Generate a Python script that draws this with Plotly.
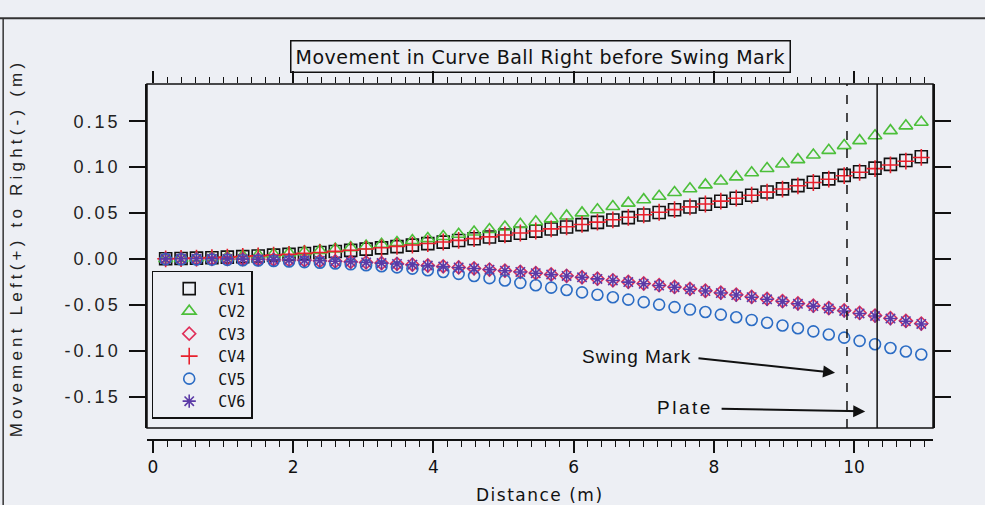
import plotly.graph_objects as go

# Distance along the pitch path (m)
distance = [0.18, 0.40, 0.62, 0.84, 1.06, 1.28, 1.50, 1.72, 1.94, 2.16,
            2.38, 2.60, 2.82, 3.04, 3.26, 3.48, 3.70, 3.92, 4.14, 4.36,
            4.58, 4.80, 5.02, 5.24, 5.46, 5.68, 5.90, 6.12, 6.34, 6.56,
            6.78, 7.00, 7.22, 7.44, 7.66, 7.88, 8.10, 8.32, 8.54, 8.76,
            8.98, 9.20, 9.42, 9.64, 9.86, 10.08, 10.30, 10.52, 10.74, 10.96]

# Lateral movement, left (+) / right (-), in metres
cv1 = [0.0002, 0.0005, 0.0009, 0.0014, 0.0020, 0.0026, 0.0033, 0.0042, 0.0050, 0.0060,
       0.0071, 0.0082, 0.0094, 0.0107, 0.0121, 0.0135, 0.0151, 0.0167, 0.0184, 0.0202,
       0.0220, 0.0240, 0.0260, 0.0281, 0.0303, 0.0326, 0.0349, 0.0374, 0.0399, 0.0425,
       0.0451, 0.0479, 0.0507, 0.0537, 0.0567, 0.0597, 0.0629, 0.0662, 0.0695, 0.0729,
       0.0764, 0.0799, 0.0836, 0.0873, 0.0911, 0.0950, 0.0990, 0.1031, 0.1072, 0.1114]
cv2 = [0.0002, 0.0006, 0.0012, 0.0018, 0.0025, 0.0033, 0.0043, 0.0054, 0.0065, 0.0078,
       0.0092, 0.0108, 0.0124, 0.0141, 0.0160, 0.0179, 0.0200, 0.0222, 0.0245, 0.0269,
       0.0294, 0.0321, 0.0348, 0.0377, 0.0406, 0.0437, 0.0469, 0.0502, 0.0536, 0.0572,
       0.0608, 0.0646, 0.0684, 0.0724, 0.0765, 0.0807, 0.0850, 0.0894, 0.0940, 0.0986,
       0.1034, 0.1082, 0.1132, 0.1183, 0.1235, 0.1289, 0.1343, 0.1398, 0.1450, 0.1490]
cv3 = [0.0001, 0.0002, 0.0002, 0.0001, 0.0000, -0.0002, -0.0004, -0.0007, -0.0011, -0.0015,
       -0.0020, -0.0025, -0.0031, -0.0038, -0.0045, -0.0053, -0.0062, -0.0071, -0.0081, -0.0092,
       -0.0103, -0.0115, -0.0127, -0.0140, -0.0154, -0.0168, -0.0183, -0.0199, -0.0215, -0.0232,
       -0.0249, -0.0267, -0.0286, -0.0305, -0.0325, -0.0346, -0.0367, -0.0389, -0.0412, -0.0435,
       -0.0459, -0.0484, -0.0509, -0.0535, -0.0561, -0.0588, -0.0616, -0.0645, -0.0674, -0.0703]
cv4 = [0.0002, 0.0005, 0.0010, 0.0015, 0.0020, 0.0027, 0.0034, 0.0042, 0.0051, 0.0061,
       0.0071, 0.0083, 0.0095, 0.0108, 0.0122, 0.0137, 0.0152, 0.0168, 0.0185, 0.0203,
       0.0222, 0.0241, 0.0262, 0.0283, 0.0305, 0.0328, 0.0351, 0.0376, 0.0401, 0.0427,
       0.0454, 0.0481, 0.0509, 0.0538, 0.0568, 0.0599, 0.0630, 0.0662, 0.0695, 0.0728,
       0.0762, 0.0797, 0.0833, 0.0869, 0.0907, 0.0945, 0.0984, 0.1024, 0.1065, 0.1106]
cv5 = [-0.0002, -0.0003, -0.0005, -0.0007, -0.0010, -0.0013, -0.0017, -0.0022, -0.0028, -0.0034,
       -0.0041, -0.0049, -0.0058, -0.0068, -0.0079, -0.0091, -0.0105, -0.0122, -0.0141, -0.0162,
       -0.0185, -0.0209, -0.0234, -0.0260, -0.0286, -0.0312, -0.0338, -0.0364, -0.0390, -0.0417,
       -0.0443, -0.0470, -0.0497, -0.0524, -0.0551, -0.0578, -0.0606, -0.0635, -0.0664, -0.0694,
       -0.0724, -0.0755, -0.0788, -0.0822, -0.0857, -0.0892, -0.0928, -0.0970, -0.1008, -0.1040]
cv6 = [0.0001, 0.0002, 0.0002, 0.0002, 0.0001, -0.0001, -0.0004, -0.0007, -0.0010, -0.0015,
       -0.0019, -0.0025, -0.0031, -0.0038, -0.0045, -0.0054, -0.0062, -0.0072, -0.0082, -0.0092,
       -0.0104, -0.0116, -0.0128, -0.0141, -0.0155, -0.0170, -0.0185, -0.0200, -0.0217, -0.0234,
       -0.0252, -0.0270, -0.0289, -0.0308, -0.0329, -0.0349, -0.0371, -0.0393, -0.0416, -0.0439,
       -0.0463, -0.0488, -0.0513, -0.0539, -0.0566, -0.0593, -0.0621, -0.0649, -0.0678, -0.0708]

series_names = ["CV1", "CV2", "CV3", "CV4", "CV5", "CV6"]
series_values = [cv1, cv2, cv3, cv4, cv5, cv6]
series_symbols = ["square-open", "triangle-up-open", "diamond-open",
                  "cross-thin-open", "circle-open", "asterisk-open"]
series_colors = ["#111111", "#4cbf3a", "#e0305a", "#e8202c", "#2b6cc4", "#5b3aa6"]
series_sizes = [12, 12, 10, 12, 11, 11]

y_tick_values = [-0.15, -0.10, -0.05, 0.00, 0.05, 0.10, 0.15]
y_tick_labels = ["-0.15", "-0.10", "-0.05", "0.00", "0.05", "0.10", "0.15"]
x_tick_values = [0, 2, 4, 6, 8, 10]
x_tick_labels = ["0", "2", "4", "6", "8", "10"]

swing_mark_x = 9.90
plate_x = 10.33

x_range = [-0.086, 11.127]
y_range = [-0.1841, 0.1906]

bg = "#edeff4"
ink = "#111111"


def spaced(text, px):
    return '<span style="letter-spacing:%spx">%s</span>' % (px, text)


fig = go.Figure()

# the last series is drawn against the top (mirror) x axis, which shares the
# bottom axis range, so that the top axis gets rendered with its tick marks
last = len(series_names) - 1
for i, (name, vals, sym, col, size) in enumerate(zip(series_names, series_values,
                                                     series_symbols, series_colors,
                                                     series_sizes)):
    fig.add_trace(go.Scatter(
        x=distance, y=vals, mode="markers", name=name,
        xaxis="x2" if i == last else "x",
        marker=dict(symbol=sym, size=size, color=col, line=dict(color=col, width=1.6)),
    ))

y_dom_bottom = 12 / 356

fig.update_layout(
    width=985, height=505,
    margin=dict(l=147, r=52, t=84, b=65),
    paper_bgcolor=bg, plot_bgcolor=bg,
    showlegend=True,
    legend=dict(x=0.006, y=0.475, xanchor="left", yanchor="top",
                bgcolor=bg, bordercolor=ink, borderwidth=1.5,
                font=dict(family="DejaVu Sans Mono", size=15, color=ink),
                itemwidth=48, indentation=7, tracegroupgap=0,
                traceorder="normal"),
    xaxis=dict(range=x_range, anchor="free", position=0,
               showline=True, linecolor=ink, linewidth=1.5,
               ticks="outside", ticklen=12, tickwidth=1.5,
               tickcolor=ink, tickvals=x_tick_values, ticktext=x_tick_labels,
               tickfont=dict(family="DejaVu Sans", size=17, color=ink),
               minor=dict(dtick=0.2, ticks="outside", ticklen=6, tickwidth=1.2,
                          tickcolor=ink),
               showgrid=False, zeroline=False),
    xaxis2=dict(range=x_range, overlaying="x", anchor="y", side="top",
                showline=False, ticks="outside", ticklen=12, tickwidth=1.5,
                tickcolor=ink, tickvals=x_tick_values, showticklabels=False,
                minor=dict(dtick=0.2, ticks="outside", ticklen=6, tickwidth=1.2,
                           tickcolor=ink),
                showgrid=False, zeroline=False),
    yaxis=dict(range=y_range, domain=[y_dom_bottom, 1],
               showline=True, linecolor=ink, linewidth=1.5,
               mirror="ticks", ticks="outside", ticklen=16, tickwidth=1.5,
               tickcolor=ink, tickvals=y_tick_values,
               ticktext=[spaced(t, 3) for t in y_tick_labels],
               ticklabelstandoff=5,
               tickfont=dict(family="Liberation Sans", size=18, color="#222222"),
               showgrid=False, zeroline=False),
)

# plot frame and the swing-mark / plate reference lines
fig.add_shape(type="rect", xref="paper", yref="paper", x0=0, x1=1,
              y0=y_dom_bottom, y1=1, line=dict(color=ink, width=1.5))
fig.add_shape(type="line", xref="x", yref="paper", x0=swing_mark_x, x1=swing_mark_x,
              y0=y_dom_bottom, y1=1, line=dict(color=ink, width=1.5, dash="dash"))
fig.add_shape(type="line", xref="x", yref="paper", x0=plate_x, x1=plate_x,
              y0=y_dom_bottom, y1=1, line=dict(color=ink, width=1.5))
# page edges
fig.add_shape(type="line", xref="paper", yref="paper", x0=-0.19, x1=1.07,
              y0=1.185, y1=1.185, line=dict(color="#333333", width=2))
fig.add_shape(type="line", xref="paper", yref="paper", x0=-0.183, x1=-0.183,
              y0=-0.2, y1=1.185, line=dict(color="#333333", width=1.5))

# chart title in a box
fig.add_annotation(xref="paper", yref="paper", x=0.5, y=1.076,
                   xanchor="center", yanchor="middle",
                   text=spaced("Movement in Curve Ball Right before Swing Mark", 0.5),
                   showarrow=False, bordercolor=ink, borderwidth=1.5, borderpad=4,
                   font=dict(family="DejaVu Sans", size=19, color=ink))
# axis titles
fig.add_annotation(xref="paper", yref="paper", x=-0.166, y=0.54, textangle=-90,
                   xanchor="center", yanchor="middle",
                   text=spaced("Movement Left(+) to Right(-) (m)", 4.2), showarrow=False,
                   font=dict(family="Liberation Sans", size=17, color="#222222"))
fig.add_annotation(xref="paper", yref="paper", x=0.5, y=-0.154,
                   xanchor="center", yanchor="middle",
                   text=spaced("Distance (m)", 1.5), showarrow=False,
                   font=dict(family="DejaVu Sans", size=17, color=ink))

# arrows pointing at the reference lines
fig.add_annotation(x=9.73, y=-0.124, ax=7.76, ay=-0.108, axref="x", ayref="y",
                   xref="x", yref="y", text="", showarrow=True, arrowhead=2,
                   arrowsize=1.2, arrowwidth=2, arrowcolor=ink)
fig.add_annotation(x=7.70, y=-0.106, xref="x", yref="y", xanchor="right",
                   yanchor="middle", text=spaced("Swing Mark", 1), showarrow=False,
                   font=dict(family="Liberation Sans", size=19, color=ink))
fig.add_annotation(x=10.16, y=-0.166, ax=8.09, ay=-0.163, axref="x", ayref="y",
                   xref="x", yref="y", text="", showarrow=True, arrowhead=2,
                   arrowsize=1.2, arrowwidth=2, arrowcolor=ink)
fig.add_annotation(x=8.02, y=-0.162, xref="x", yref="y", xanchor="right",
                   yanchor="middle", text=spaced("Plate", 2.5), showarrow=False,
                   font=dict(family="Liberation Sans", size=19, color=ink))

fig.write_html("out.html")
